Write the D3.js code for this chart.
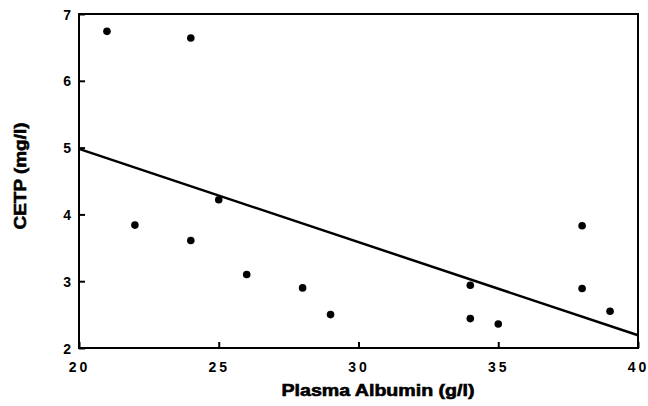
<!DOCTYPE html>
<html>
<head>
<meta charset="utf-8">
<script src="https://cdn.jsdelivr.net/npm/d3@7"></script>
<style>
  body { margin: 0; background: #fff; }
  svg text { font-family: "Liberation Sans", Arial, sans-serif; fill: #000; }
</style>
</head>
<body>
<div id="Canvas"></div>
<script>
// 資料
let albumin = [21, 24, 22, 24, 25, 26, 28, 29, 34, 34, 35, 38, 38, 39]
let cetp    = [6.74, 6.64, 3.84, 3.61, 4.22, 3.10, 2.90, 2.50, 2.94, 2.44, 2.36, 3.83, 2.89, 2.55]
// 迴歸線兩端
let fitX = [20, 40]
let fitY = [4.98, 2.19]
let xTicks = [20, 25, 30, 35, 40]
let yTicks = [2, 3, 4, 5, 6, 7]

let W = 648, H = 406
let mLeft = 79, mRight = 638, mTop = 14, mBottom = 348

let svg = d3.select("#Canvas")
    .append("svg")
    .attr("width", W)
    .attr("height", H)

let xScale = d3.scaleLinear().domain([20, 40]).range([mLeft, mRight])
let yScale = d3.scaleLinear().domain([2, 7]).range([mBottom, mTop])

// 框
svg.append("rect")
    .attr("x", mLeft).attr("y", mTop)
    .attr("width", mRight - mLeft).attr("height", mBottom - mTop)
    .style("fill", "none").style("stroke", "#000").style("stroke-width", 2)

// 左軸 (刻度朝內)
let yAxis = svg.append("g")
    .attr("transform", `translate(${mLeft},0)`)
    .call(d3.axisRight(yScale).tickValues(yTicks).tickSize(6).tickFormat(d3.format("d")))
yAxis.select(".domain").remove()
yAxis.selectAll("line").style("stroke", "#000").style("stroke-width", 2)
yAxis.selectAll("text")
    .attr("x", -8).attr("dy", "0.36em")
    .style("text-anchor", "end")
    .style("font-size", "14px").style("font-weight", "bold")

// 下軸 (刻度朝上)
let xAxis = svg.append("g")
    .attr("transform", `translate(0,${mBottom})`)
    .call(d3.axisTop(xScale).tickValues(xTicks).tickSize(6).tickFormat(d3.format("d")))
xAxis.select(".domain").remove()
xAxis.selectAll("line").style("stroke", "#000").style("stroke-width", 2)
xAxis.selectAll("text")
    .attr("y", 24).attr("dy", 0)
    .style("text-anchor", "middle")
    .style("letter-spacing", "3px")
    .style("font-size", "14px").style("font-weight", "bold")

// 迴歸線
svg.append("line")
    .attr("x1", xScale(fitX[0])).attr("y1", yScale(fitY[0]))
    .attr("x2", xScale(fitX[1])).attr("y2", yScale(fitY[1]))
    .style("stroke", "#000").style("stroke-width", 2.5)

// 點
svg.append("g")
    .selectAll("circle")
    .data(albumin)
    .enter()
    .append("circle")
    .attr("cx", (d) => xScale(d))
    .attr("cy", (d, i) => yScale(cetp[i]))
    .attr("r", 3.8)
    .style("fill", "#000")

// 軸標題 (粗一點)
svg.append("text")
    .attr("x", 378).attr("y", 396)
    .attr("text-anchor", "middle")
    .attr("textLength", 193).attr("lengthAdjust", "spacingAndGlyphs")
    .style("font-size", "16px").style("font-weight", "bold")
    .style("stroke", "#000").style("stroke-width", 0.6)
    .text("Plasma Albumin (g/l)")

svg.append("text")
    .attr("transform", "translate(26,176) rotate(-90)")
    .attr("text-anchor", "middle")
    .attr("textLength", 107).attr("lengthAdjust", "spacingAndGlyphs")
    .style("font-size", "16px").style("font-weight", "bold")
    .style("stroke", "#000").style("stroke-width", 0.6)
    .text("CETP (mg/l)")
</script>
</body>
</html>
